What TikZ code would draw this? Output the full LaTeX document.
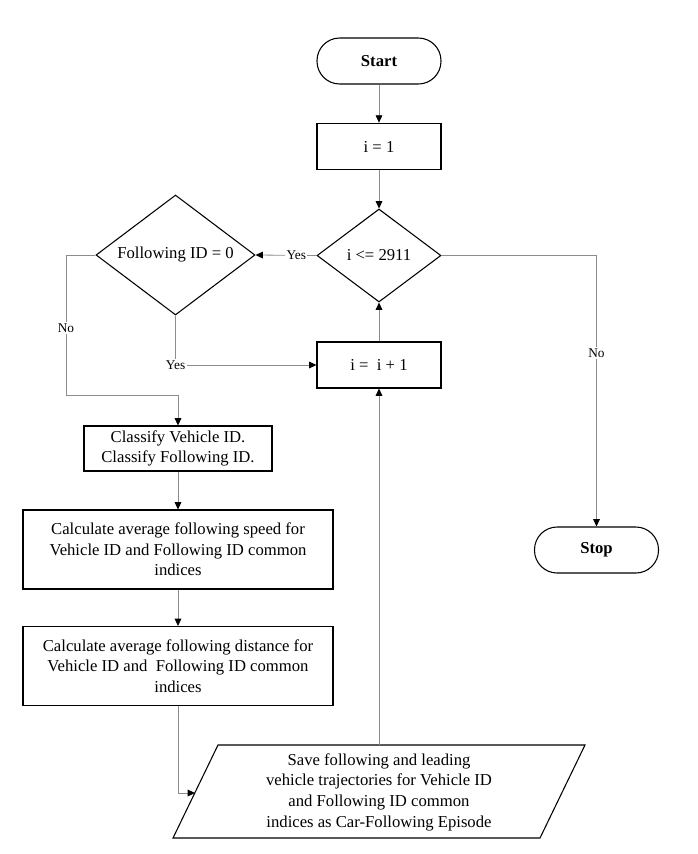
\documentclass[tikz,border=0pt]{standalone}
\usepackage{fontspec}
\setmainfont{Liberation Serif}
\usetikzlibrary{shapes.geometric,arrows.meta}

\tikzset{
  terminal/.style={draw, line width=0.8pt, rounded corners=17pt, minimum width=93pt, minimum height=34.5pt, font=\fontsize{12.5}{15}\selectfont\bfseries},
  process/.style={draw, line width=0.8pt, align=center, inner sep=2pt, font=\fontsize{12.5}{15.5}\selectfont},
  decision/.style={diamond, draw, line width=0.8pt, inner sep=0pt, shape aspect=1.33, font=\fontsize{12.5}{15}\selectfont},
  conn/.style={draw=black!45, line width=0.6pt},
  flow/.style={conn, -{Triangle[color=black, width=5pt, length=5.5pt]}},
  lbl/.style={fill=white, inner sep=1pt, font=\fontsize{10}{12}\selectfont}
}

\begin{document}
\begin{tikzpicture}[x=0.75pt,y=0.75pt,yscale=-1,xscale=1]
            \useasboundingbox (0,0) rectangle (697,854);

            % Terminals
            \node [terminal] (start) at (379,61) {Start};
            \node [terminal] (stop) at (596.5,550) {Stop};

            % Process boxes
            \node [process, minimum width=93pt, minimum height=35pt] (init) at (379,146.5) {i = 1};
            \node [process, minimum width=93pt, minimum height=34.5pt] (inc) at (379,365) {i =\ \ i + 1};
            \node [process, minimum width=141pt, minimum height=33.75pt] (classify) at (178,448.5) {Classify Vehicle ID.\\Classify Following ID.};
            \node [process, minimum width=232.5pt, minimum height=59.25pt] (speed) at (178,549.5) {Calculate average following speed for\\Vehicle ID and Following ID common\\indices};
            \node [process, minimum width=232.5pt, minimum height=59.25pt] (dist) at (178,666) {Calculate average following distance for\\Vehicle ID and \ Following ID common\\indices};

            % Decisions
            \node [decision, minimum width=93pt, minimum height=69.75pt] (cond) at (379,255.5) {i <= 2911};
            \node [decision, minimum width=119.25pt, minimum height=90pt] (fid) at (175.5,255) {Following ID = 0};

            %Shape: Parallelogram
            \coordinate (sa) at (173,838);
            \coordinate (sb) at (540,838);
            \coordinate (sc) at (585,745);
            \coordinate (sd) at (218,745);
            \draw [line width=0.8pt] (sa) -- (sb) -- (sc) -- (sd) -- cycle;
            \node [align=center, font=\fontsize{12.5}{15.5}\selectfont] (save) at (379,792) {Save following and leading\\vehicle trajectories for Vehicle ID\\and Following ID common\\indices as Car-Following Episode};
            \coordinate (savetop) at (379,745);
            \coordinate (saveleft) at (195,793);
            \coordinate (nobend) at (66,395);

            % Connectors
            \draw [flow] (start) -- (init);
            \draw [flow] (init) -- (cond);
            \draw [flow] (cond.west) -- node [lbl, pos=0.33] {Yes} (fid.east);
            \draw [flow] (cond.east) -| node [lbl, pos=0.68] {No} (stop.north);
            \draw [flow] (fid.west) -| node [lbl, pos=0.76] {No} (nobend) -| (classify.north);
            \draw [flow] (fid.south) |- node [lbl, pos=0.5] {Yes} (inc.west);
            \draw [flow] (inc.north) -- (cond.south);
            \draw [flow] (classify) -- (speed);
            \draw [flow] (speed) -- (dist);
            \draw [flow] (dist.south) |- (saveleft);
            \draw [flow] (savetop) -- (inc.south);
\end{tikzpicture}
\end{document}
